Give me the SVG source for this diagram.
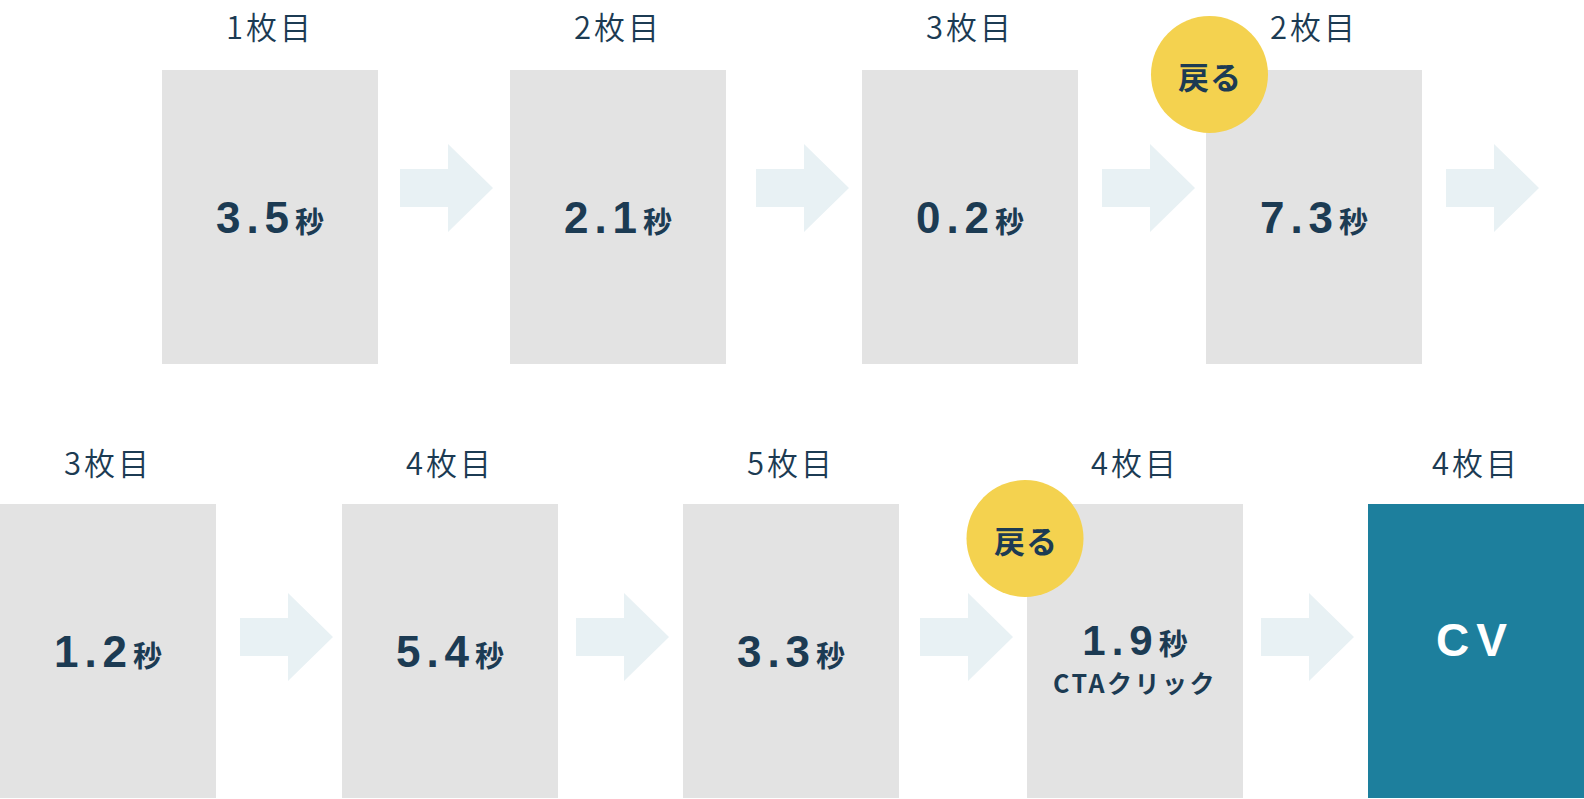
<svg xmlns="http://www.w3.org/2000/svg" width="1584" height="799" viewBox="0 0 1584 799">
<defs>
<style>
.box{fill:#e3e3e3}
.cv{fill:#1d7f9d}
.arr{fill:#e8f1f4}
.badge{fill:#f4d24f}
.lbl{font-family:"Noto Sans CJK JP","Noto Sans",sans-serif;font-weight:350;font-size:31px;fill:#1c3b53;text-anchor:middle;letter-spacing:3px}
.num{font-family:"Liberation Sans",Arial,sans-serif;font-weight:bold;font-size:44px;fill:#1c3b53;text-anchor:middle;letter-spacing:6px}
.num2{font-size:42px}
.sec{font-family:"Noto Sans CJK JP",sans-serif;font-weight:bold;font-size:29px;letter-spacing:0}
.sub{font-family:"Noto Sans CJK JP",sans-serif;font-weight:bold;font-size:25px;fill:#1c3b53;text-anchor:middle;letter-spacing:2.5px}
.btxt{font-family:"Noto Sans CJK JP",sans-serif;font-weight:bold;font-size:31px;fill:#1c3b53;text-anchor:middle;letter-spacing:1px}
.cvt{font-family:"Liberation Sans",Arial,sans-serif;font-weight:bold;font-size:46px;fill:#ffffff;text-anchor:middle;letter-spacing:7px}
</style>
<path id="arrow" d="M0,-19 H48 V-44 L93,0 L48,44 V19 H0 Z"/>
</defs>
<rect width="1584" height="799" fill="#ffffff"/>
<g id="connectors">
<use href="#arrow" class="arr" x="400" y="188"/>
<use href="#arrow" class="arr" x="756" y="188"/>
<use href="#arrow" class="arr" x="1102" y="188"/>
<use href="#arrow" class="arr" x="1446" y="188"/>
<use href="#arrow" class="arr" x="240" y="637"/>
<use href="#arrow" class="arr" x="576" y="637"/>
<use href="#arrow" class="arr" x="920" y="637"/>
<use href="#arrow" class="arr" x="1261" y="637"/>
</g>
<g id="n1">
<text class="lbl" x="270" y="39">1枚目</text>
<rect class="box" x="162" y="70" width="216" height="294"/>
<text class="num" x="270" y="233">3.5<tspan class="sec">秒</tspan></text>
</g>
<g id="n2">
<text class="lbl" x="618" y="39">2枚目</text>
<rect class="box" x="510" y="70" width="216" height="294"/>
<text class="num" x="618" y="233">2.1<tspan class="sec">秒</tspan></text>
</g>
<g id="n3">
<text class="lbl" x="970" y="39">3枚目</text>
<rect class="box" x="862" y="70" width="216" height="294"/>
<text class="num" x="970" y="233">0.2<tspan class="sec">秒</tspan></text>
</g>
<g id="n4">
<text class="lbl" x="1314" y="39">2枚目</text>
<rect class="box" x="1206" y="70" width="216" height="294"/>
<text class="num" x="1314" y="233">7.3<tspan class="sec">秒</tspan></text>
</g>
<g id="b1">
<circle class="badge" cx="1209.5" cy="74.5" r="58.5"/>
<text class="btxt" x="1210" y="89">戻る</text>
</g>
<g id="n5">
<text class="lbl" x="108" y="475">3枚目</text>
<rect class="box" x="0" y="504" width="216" height="294"/>
<text class="num" x="108" y="667">1.2<tspan class="sec">秒</tspan></text>
</g>
<g id="n6">
<text class="lbl" x="450" y="475">4枚目</text>
<rect class="box" x="342" y="504" width="216" height="294"/>
<text class="num" x="450" y="667">5.4<tspan class="sec">秒</tspan></text>
</g>
<g id="n7">
<text class="lbl" x="791" y="475">5枚目</text>
<rect class="box" x="683" y="504" width="216" height="294"/>
<text class="num" x="791" y="667">3.3<tspan class="sec">秒</tspan></text>
</g>
<g id="n8">
<text class="lbl" x="1135" y="475">4枚目</text>
<rect class="box" x="1027" y="504" width="216" height="294"/>
<text class="num num2" x="1135" y="655">1.9<tspan class="sec">秒</tspan></text>
<text class="sub" x="1135" y="693">CTAクリック</text>
</g>
<g id="b2">
<circle class="badge" cx="1025" cy="538.5" r="58.5"/>
<text class="btxt" x="1026" y="553">戻る</text>
</g>
<g id="n9">
<text class="lbl" x="1476" y="475">4枚目</text>
<rect class="cv" x="1368" y="504" width="216" height="294"/>
<text class="cvt" x="1475" y="656">CV</text>
</g>
</svg>
